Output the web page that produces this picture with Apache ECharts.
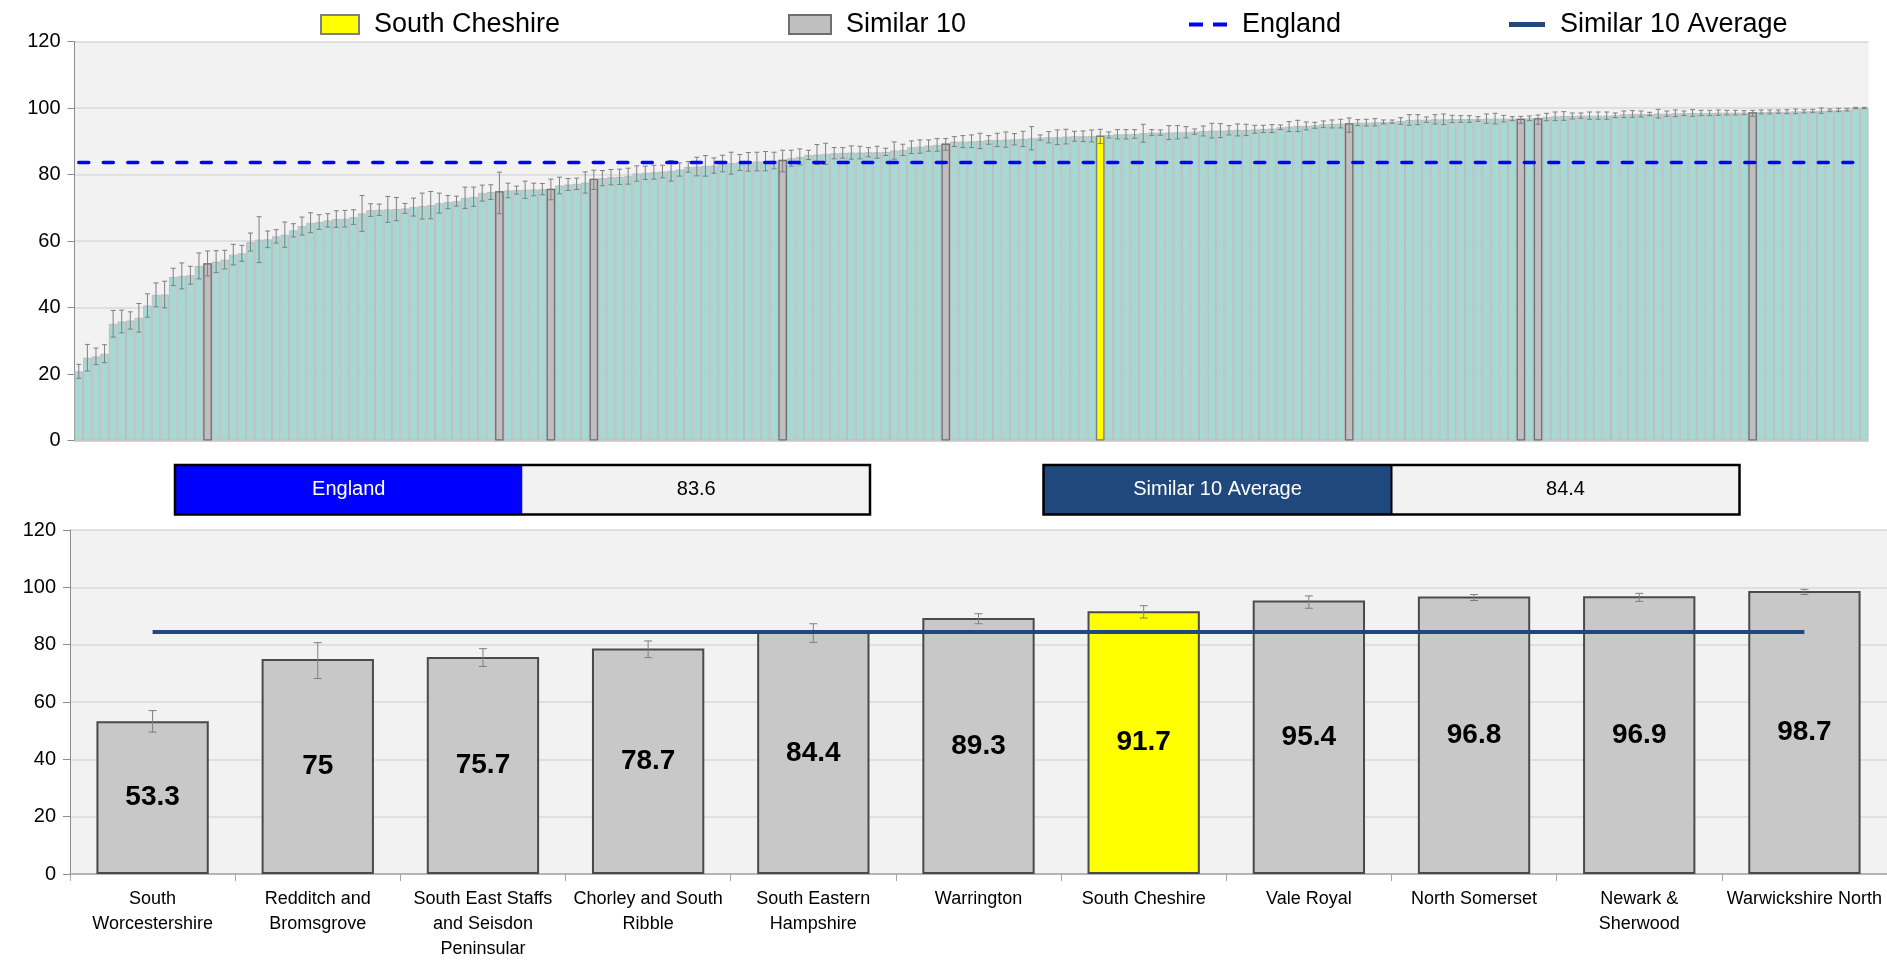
<!DOCTYPE html>
<html><head><meta charset="utf-8">
<script src="https://cdn.jsdelivr.net/npm/echarts@6/dist/echarts.min.js"></script>
<style>html,body{margin:0;padding:0;background:#fff}#c{width:1887px;height:962px}</style>
</head><body><div id="c"></div><script>
// ---------- DATA ----------
var topValues = [
 20.8,24.9,25.3,26.1,35.1,35.8,36.1,36.9,40.6,43.8,
 43.9,49.2,49.5,49.7,52.5,53.3,53.8,54.4,55.9,56.3,
 59.7,60.4,60.5,61.4,61.9,63.2,64.5,65.5,65.7,66.2,
 66.6,66.7,67.2,68.3,69.3,69.4,69.5,69.6,69.8,70.2,
 70.5,70.8,71.4,71.7,72.0,73.0,73.3,74.4,74.7,75.0,
 75.2,75.3,75.4,75.5,75.6,75.7,76.7,77.0,77.2,77.6,
 78.7,78.9,79.2,79.3,79.5,80.3,80.5,80.7,80.9,81.1,
 81.5,82.3,82.4,82.6,82.7,83.3,83.4,83.6,83.8,83.9,
 84.0,84.2,84.4,84.9,85.3,85.9,86.0,86.2,86.4,86.5,
 86.6,86.6,86.7,86.7,86.8,87.2,87.4,88.2,88.4,88.7,
 88.9,89.3,89.9,89.9,90.0,90.1,90.4,90.4,90.5,90.6,
 90.7,90.9,91.1,91.2,91.2,91.4,91.5,91.5,91.6,91.7,
 91.9,92.1,92.1,92.2,92.4,92.6,92.6,92.6,92.7,92.7,
 92.9,93.1,93.2,93.2,93.3,93.4,93.4,93.6,93.7,93.8,
 94.2,94.4,94.6,94.6,94.8,95.1,95.2,95.3,95.4,95.6,
 95.6,95.7,95.8,95.9,96.1,96.4,96.5,96.5,96.6,96.6,
 96.7,96.7,96.7,96.7,96.8,96.8,96.8,96.8,96.8,96.9,
 96.9,97.3,97.5,97.6,97.6,97.7,97.7,97.7,97.7,97.8,
 98.1,98.2,98.2,98.2,98.3,98.3,98.4,98.4,98.5,98.5,
 98.5,98.6,98.6,98.6,98.6,98.7,98.8,98.8,98.9,98.9,
 99.0,99.0,99.1,99.2,99.3,99.4,99.5,100.0,100.0
];
var topErr = [
 2.1,4.0,2.5,2.7,4.0,3.4,2.6,4.3,3.5,3.6,
 4.0,2.6,3.9,2.7,3.9,3.7,3.3,2.8,3.1,2.4,
 2.7,6.9,2.5,2.0,3.8,2.0,2.7,3.0,2.2,2.0,
 2.5,2.5,2.2,5.4,1.9,1.7,3.9,3.5,1.5,2.7,
 3.9,4.1,3.0,2.0,1.5,3.2,2.9,2.4,2.2,6.2,
 2.2,1.2,2.6,1.9,1.7,3.0,2.5,1.8,1.7,3.2,
 2.7,2.3,2.3,2.3,2.4,2.3,2.0,2.1,1.9,3.1,
 2.0,1.6,2.8,3.1,2.3,2.5,3.3,2.4,2.8,2.8,
 2.9,2.5,3.2,2.4,2.4,1.4,3.0,3.2,1.7,1.6,
 2.0,1.9,1.4,1.8,1.1,2.6,1.7,1.9,2.0,1.7,
 1.9,1.7,1.5,1.8,1.9,2.3,1.3,2.0,2.3,1.7,
 2.3,3.5,0.8,1.7,2.2,2.2,1.5,1.6,1.8,2.1,
 0.9,1.4,1.4,1.3,2.7,0.9,0.8,2.1,2.0,1.7,
 0.8,1.5,2.2,2.1,1.4,1.8,1.7,1.2,1.1,1.2,
 0.7,1.5,1.7,1.2,0.9,1.0,1.2,1.3,2.1,0.9,
 1.0,1.1,0.6,0.5,1.0,1.6,1.5,0.8,1.4,1.6,
 1.1,1.0,1.0,0.7,1.4,1.6,1.0,0.6,1.0,0.7,
 1.4,1.1,1.3,1.3,0.9,0.8,1.1,1.1,1.1,0.7,
 1.0,1.0,0.9,0.5,1.3,0.8,1.0,0.7,1.0,0.8,
 0.8,0.8,0.7,0.7,0.6,0.9,0.6,0.6,0.5,0.6,
 0.7,0.5,0.5,0.8,0.4,0.5,0.4,0.2,0.2
];
var similarNames = ['South\nWorcestershire','Redditch and\nBromsgrove','South East Staffs\nand Seisdon\nPeninsular','Chorley and South\nRibble','South Eastern\nHampshire','Warrington','South Cheshire','Vale Royal','North Somerset','Newark &\nSherwood','Warwickshire North'];
var similarValues = [53.3,75,75.7,78.7,84.4,89.3,91.7,95.4,96.8,96.9,98.7];
var similarLow    = [49.5,68.2,72.4,75.5,80.8,87.3,89.3,92.7,95.4,95.1,97.5];
var similarHigh   = [57.0,80.7,78.6,81.3,87.3,90.8,93.6,97.0,97.5,97.9,99.3];
var similarRank   = [15,49,55,60,82,101,119,148,168,170,195];
var selectedName  = 'South Cheshire';
var englandValue  = 83.6;
var similarAverage = 84.4;
var yTicks = [0,20,40,60,80,100,120];

// ---------- BUILD ----------
var FONT = "'Liberation Sans', Arial, sans-serif";
var selPos = similarNames.indexOf(selectedName);
var topCats = topValues.map(function(v,i){return String(i+1);});
var simTop = topValues.map(function(v,i){var k=similarRank.indexOf(i);return (k>=0 && k!==selPos)?v:'-';});
var selTop = topValues.map(function(v,i){return i===similarRank[selPos]?v:'-';});
var topErrData = topValues.map(function(v,i){
  var k = similarRank.indexOf(i);
  if(k>=0) return [i, similarLow[k], similarHigh[k]];
  return [i, v-topErr[i], v+topErr[i]];
});
var botErrData = similarValues.map(function(v,i){return [i, similarLow[i], similarHigh[i]];});

function errRender(capHalf){
  return function(params, api){
    var x = api.value(0), lo = api.value(1), hi = api.value(2);
    var a = api.coord([x, lo]), b = api.coord([x, hi]);
    var st = {stroke:'#7f7f7f', lineWidth:1};
    return {type:'group', children:[
      {type:'line', shape:{x1:a[0],y1:a[1],x2:b[0],y2:b[1]}, style:st},
      {type:'line', shape:{x1:a[0]-capHalf,y1:a[1],x2:a[0]+capHalf,y2:a[1]}, style:st},
      {type:'line', shape:{x1:b[0]-capHalf,y1:b[1],x2:b[0]+capHalf,y2:b[1]}, style:st}
    ]};
  };
}

function yAxisCfg(gi){
  return {type:'value', gridIndex:gi, min:yTicks[0], max:yTicks[yTicks.length-1], interval:yTicks[1]-yTicks[0],
    axisLine:{show:true, lineStyle:{color:'#8c8c8c', width:1}},
    axisTick:{show:true, length:7, lineStyle:{color:'#8c8c8c'}},
    axisLabel:{fontSize:20, color:'#000', fontFamily:FONT, margin:14},
    splitLine:{lineStyle:{color:'#d9d9d9', width:1.5}}};
}

function legendCfg(name, left, w, h, icon, itemStyle){
  var l = {data:[name], left:left, top:6, itemWidth:w, itemHeight:h, selectedMode:false, icon:icon,
    textStyle:{fontSize:27, color:'#000', fontFamily:FONT, padding:[0,0,0,10]}};
  if(itemStyle) l.itemStyle = itemStyle;
  return l;
}

var chart = echarts.init(document.getElementById('c'), null, {renderer:'canvas'});
chart.setOption({
  animation:false,
  backgroundColor:'#ffffff',
  textStyle:{fontFamily:FONT},
  legend:[
    legendCfg('South Cheshire', 315, 38, 19, 'rect'),
    legendCfg('Similar 10', 783, 42, 19, 'rect'),
    legendCfg('England', 1184, 38, 4, 'path://M0,0h14v4h-14z M24,0h14v4h-14z', {color:'#0000ff', borderWidth:0}),
    legendCfg('Similar 10 Average', 1504, 36, 5, 'path://M0,0h36v5h-36z', {color:'#1f497d', borderWidth:0})
  ],
  grid:[
    {left:74.5, top:41.5, width:1794, height:399, show:true, backgroundColor:'#f2f2f2', borderWidth:0},
    {left:70, top:530, width:1817, height:349, show:true, backgroundColor:'#f2f2f2', borderWidth:0}
  ],
  xAxis:[
    {type:'category', gridIndex:0, data:topCats, axisLabel:{show:false}, axisTick:{show:false},
     axisLine:{lineStyle:{color:'#d0d0d0', width:1.5}}},
    {type:'category', gridIndex:1, data:similarNames,
     axisLabel:{interval:0, fontSize:18, lineHeight:25, color:'#000', fontFamily:FONT, margin:13},
     axisTick:{show:true, length:7, lineStyle:{color:'#a6a6a6'}},
     axisLine:{lineStyle:{color:'#a6a6a6', width:1.5}}}
  ],
  yAxis:[yAxisCfg(0), yAxisCfg(1)],
  graphic:[
    {type:'group', left:172.5, top:462.5, children:[
      {type:'rect', shape:{x:0,y:0,width:347.5,height:49.5}, style:{fill:'#0000ff'}},
      {type:'rect', shape:{x:347.5,y:0,width:347.5,height:49.5}, style:{fill:'#f2f2f2'}},
      {type:'rect', shape:{x:0,y:0,width:695,height:49.5}, style:{fill:null, stroke:'#000', lineWidth:2.5}},
      {type:'text', x:173.75, y:24.75, style:{text:'England', fill:'#fff', font:'20px '+FONT, align:'center', verticalAlign:'middle'}},
      {type:'text', x:521.25, y:24.75, style:{text:String(englandValue), fill:'#000', font:'20px '+FONT, align:'center', verticalAlign:'middle'}}
    ]},
    {type:'group', left:1041, top:462.5, children:[
      {type:'rect', shape:{x:0,y:0,width:348,height:49.5}, style:{fill:'#1f497d'}},
      {type:'rect', shape:{x:348,y:0,width:348,height:49.5}, style:{fill:'#f2f2f2'}},
      {type:'line', shape:{x1:348,y1:0,x2:348,y2:49.5}, style:{stroke:'#000', lineWidth:2}},
      {type:'rect', shape:{x:0,y:0,width:696,height:49.5}, style:{fill:null, stroke:'#000', lineWidth:2.5}},
      {type:'text', x:174, y:24.75, style:{text:'Similar 10 Average', fill:'#fff', font:'20px '+FONT, align:'center', verticalAlign:'middle'}},
      {type:'text', x:522, y:24.75, style:{text:String(similarAverage), fill:'#000', font:'20px '+FONT, align:'center', verticalAlign:'middle'}}
    ]}
  ],
  series:[
    {name:'All areas', type:'bar', xAxisIndex:0, yAxisIndex:0, data:topValues, barCategoryGap:'0%', barGap:'-100%',
     itemStyle:{color:'#a6d8d4', borderColor:'#c2babd', borderWidth:1}, silent:true, z:2},
    {name:'Similar 10', type:'bar', xAxisIndex:0, yAxisIndex:0, data:simTop, barCategoryGap:'0%', barGap:'-100%',
     itemStyle:{color:'#bfbfbf', borderColor:'#6e6e6e', borderWidth:1.3}, silent:true, z:3},
    {name:'South Cheshire', type:'bar', xAxisIndex:0, yAxisIndex:0, data:selTop, barCategoryGap:'0%', barGap:'-100%',
     itemStyle:{color:'#ffff00', borderColor:'#7f7f7f', borderWidth:1.3}, silent:true, z:3},
    {name:'Top CI', type:'custom', xAxisIndex:0, yAxisIndex:0, data:topErrData, renderItem:errRender(2.5),
     encode:{x:0, y:[1,2]}, silent:true, z:4},
    {name:'England', type:'line', xAxisIndex:0, yAxisIndex:0, data:topCats.map(function(){return englandValue;}),
     symbol:'none', silent:true, z:5,
     lineStyle:{color:'#0000ff', width:3.5, type:[10,14.5], cap:'round'}, itemStyle:{color:'#0000ff'}},
    {name:'Similar 10 values', type:'bar', xAxisIndex:1, yAxisIndex:1, barCategoryGap:'32%',
     data:similarValues.map(function(v,i){return i===selPos?{value:v, itemStyle:{color:'#ffff00'}}:v;}),
     itemStyle:{color:'#c8c8c8', borderColor:'#4a4a4a', borderWidth:2},
     label:{show:true, position:'inside', fontSize:28, fontWeight:'bold', color:'#000', fontFamily:FONT},
     silent:true, z:2},
    {name:'Similar CI', type:'custom', xAxisIndex:1, yAxisIndex:1, data:botErrData, renderItem:errRender(4),
     encode:{x:0, y:[1,2]}, silent:true, z:4},
    {name:'Similar 10 Average', type:'line', xAxisIndex:1, yAxisIndex:1,
     data:similarNames.map(function(){return similarAverage;}), symbol:'none', silent:true, z:5,
     lineStyle:{color:'#1f497d', width:4}, itemStyle:{color:'#1f497d'}}
  ]
});
</script></body></html>
